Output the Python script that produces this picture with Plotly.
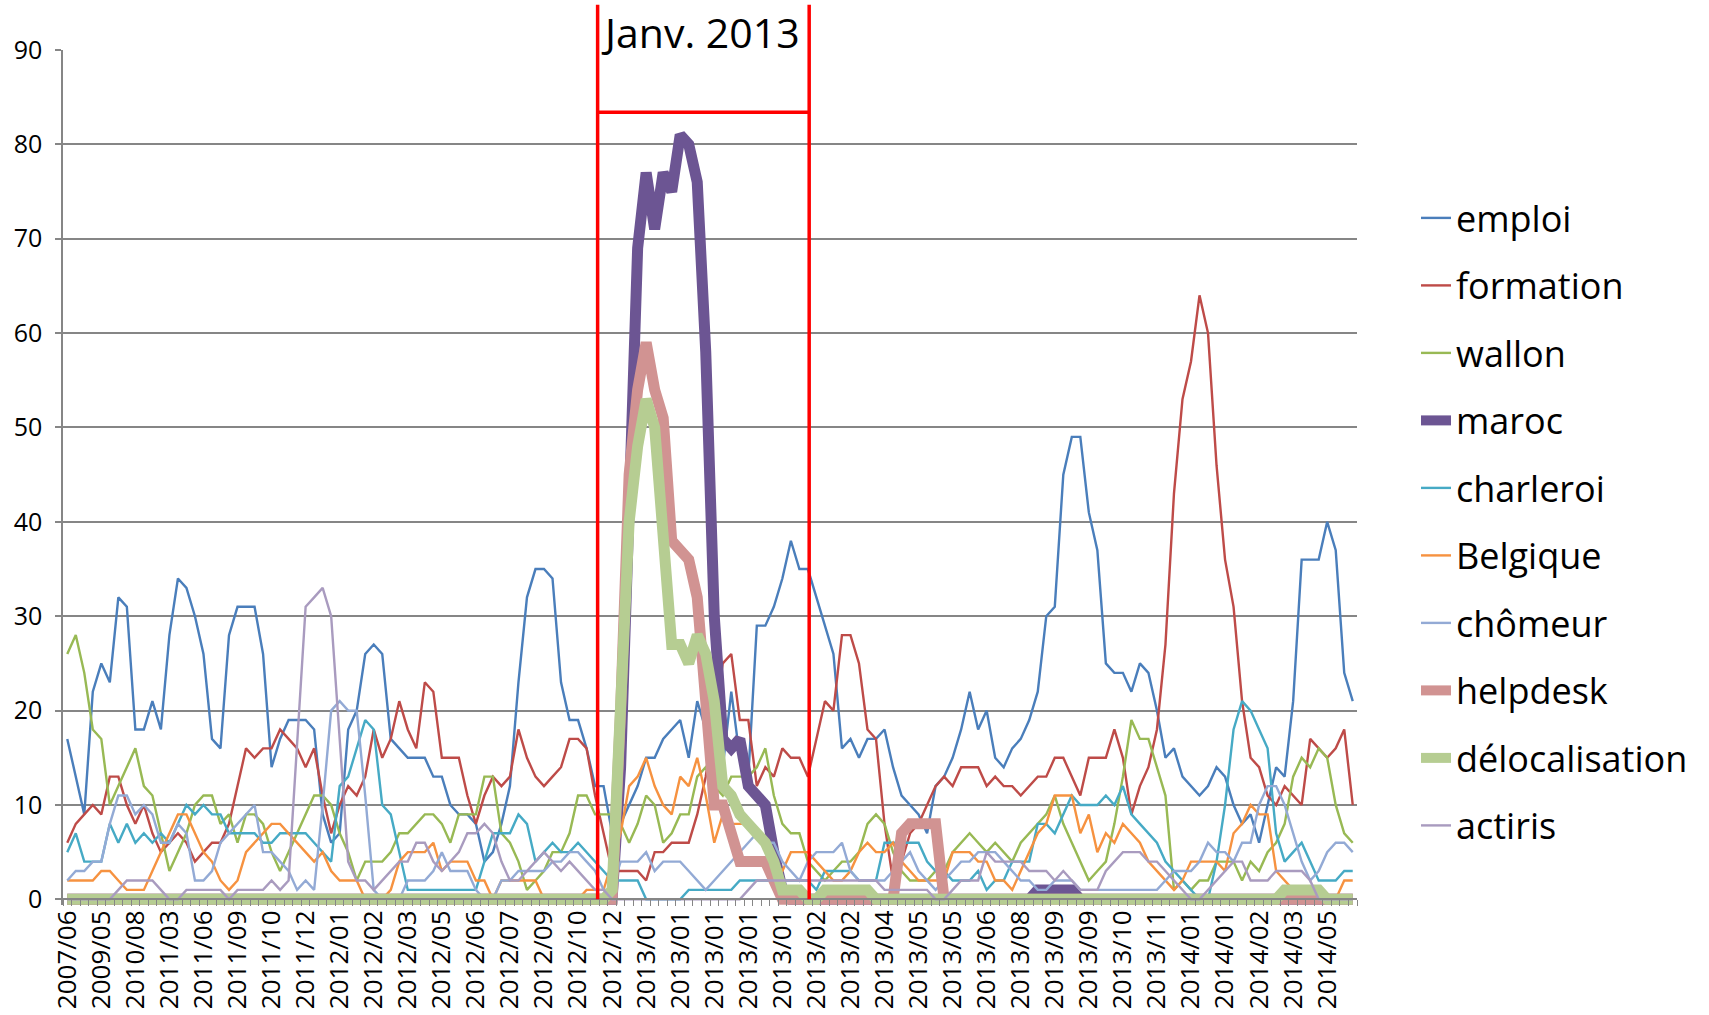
import plotly.graph_objects as go

# ---------------- data ----------------
x_labels = ["2007/06", "2009/05", "2010/08", "2011/03", "2011/06", "2011/09", "2011/10", "2011/12",
            "2012/01", "2012/02", "2012/03", "2012/05", "2012/06", "2012/07", "2012/09", "2012/10",
            "2012/12", "2013/01", "2013/01", "2013/01", "2013/01", "2013/01", "2013/02", "2013/02",
            "2013/04", "2013/05", "2013/05", "2013/06", "2013/08", "2013/09", "2013/09", "2013/10",
            "2013/11", "2014/01", "2014/01", "2014/02", "2014/03", "2014/05"]

emploi = [17, 13, 9, 22, 25, 23, 32, 31, 18, 18,
          21, 18, 28, 34, 33, 30, 26, 17, 16, 28,
          31, 31, 31, 26, 14, 17, 19, 19, 19, 18,
          9, 6, 7, 18, 20, 26, 27, 26, 17, 16,
          15, 15, 15, 13, 13, 10, 9, 9, 8, 4,
          5, 8, 12, 23, 32, 35, 35, 34, 23, 19,
          19, 16, 12, 12, 7, 8, 10, 12, 15, 15,
          17, 18, 19, 15, 21, 18, 15, 14, 22, 15,
          13, 29, 29, 31, 34, 38, 35, 35, 32, 29,
          26, 16, 17, 15, 17, 17, 18, 14, 11, 10,
          9, 7, 12, 13, 15, 18, 22, 18, 20, 15,
          14, 16, 17, 19, 22, 30, 31, 45, 49, 49,
          41, 37, 25, 24, 24, 22, 25, 24, 20, 15,
          16, 13, 12, 11, 12, 14, 13, 10, 8, 9,
          6, 10, 14, 13, 21, 36, 36, 36, 40, 37,
          24, 21]

formation = [6, 8, 9, 10, 9, 13, 13, 10, 8, 10,
             7, 5, 6, 7, 6, 4, 5, 6, 6, 8,
             12, 16, 15, 16, 16, 18, 17, 16, 14, 16,
             11, 7, 10, 12, 11, 13, 18, 15, 17, 21,
             18, 16, 23, 22, 15, 15, 15, 11, 8, 11,
             13, 12, 13, 18, 15, 13, 12, 13, 14, 17,
             17, 16, 11, 7, 3, 3, 3, 3, 2, 5,
             5, 6, 6, 6, 9, 13, 19, 25, 26, 19,
             19, 12, 14, 13, 16, 15, 15, 13, 17, 21,
             20, 28, 28, 25, 18, 17, 8, 2, 4, 7,
             8, 10, 12, 13, 12, 14, 14, 14, 12, 13,
             12, 12, 11, 12, 13, 13, 15, 15, 13, 11,
             15, 15, 15, 18, 15, 9, 12, 14, 18, 27,
             43, 53, 57, 64, 60, 46, 36, 31, 21, 15,
             14, 11, 10, 12, 11, 10, 17, 16, 15, 16,
             18, 10]

wallon = [26, 28, 24, 18, 17, 10, 12, 14, 16, 12,
          11, 7, 3, 5, 7, 10, 11, 11, 8, 9,
          6, 9, 9, 8, 5, 3, 5, 7, 9, 11,
          11, 10, 7, 5, 2, 4, 4, 4, 5, 7,
          7, 8, 9, 9, 8, 6, 9, 9, 9, 13,
          13, 7, 6, 4, 1, 2, 3, 5, 5, 7,
          11, 11, 9, 9, 9, 8, 6, 8, 11, 10,
          6, 7, 9, 9, 13, 14, 12, 11, 13, 13,
          13, 14, 16, 11, 8, 7, 7, 4, 3, 2,
          3, 4, 4, 5, 8, 9, 8, 5, 3, 2,
          2, 2, 3, 3, 5, 6, 7, 6, 5, 6,
          5, 4, 6, 7, 8, 9, 11, 8, 6, 4,
          2, 3, 4, 8, 13, 19, 17, 17, 14, 11,
          1, 2, 1, 2, 2, 4, 4, 4, 2, 4,
          3, 5, 6, 8, 13, 15, 14, 16, 15, 10,
          7, 6]

maroc = [0, 0, 0, 0, 0, 0, 0, 0, 0, 0,
         0, 0, 0, 0, 0, 0, 0, 0, 0, 0,
         0, 0, 0, 0, 0, 0, 0, 0, 0, 0,
         0, 0, 0, 0, 0, 0, 0, 0, 0, 0,
         0, 0, 0, 0, 0, 0, 0, 0, 0, 0,
         0, 0, 0, 0, 0, 0, 0, 0, 0, 0,
         0, 0, 0, 0, 0, 14, 41, 69, 77, 71,
         77, 75, 81, 80, 76, 58, 30, 17, 16, 17,
         12, 11, 10, 5, 1, 0, 0, 0, 0, 0,
         0, 0, 0, 0, 0, 0, 0, 0, 0, 0,
         0, 0, 0, 0, 0, 0, 0, 0, 0, 0,
         0, 0, 0, 0, 1, 1, 1, 1, 1, 0,
         0, 0, 0, 0, 0, 0, 0, 0, 0, 0,
         0, 0, 0, 0, 0, 0, 0, 0, 0, 0,
         0, 0, 0, 0, 0, 0, 0, 0, 0, 0,
         0, 0]

charleroi = [5, 7, 4, 4, 4, 8, 6, 8, 6, 7,
             6, 7, 6, 8, 10, 9, 10, 9, 9, 7,
             7, 7, 7, 6, 6, 7, 7, 7, 7, 6,
             5, 4, 12, 13, 16, 19, 18, 10, 9, 5,
             1, 1, 1, 1, 1, 1, 1, 1, 1, 4,
             7, 7, 7, 9, 8, 4, 5, 6, 5, 5,
             6, 5, 4, 3, 2, 2, 2, 2, 0, 0,
             0, 0, 0, 1, 1, 1, 1, 1, 1, 2,
             2, 2, 2, 2, 2, 2, 2, 2, 1, 3,
             3, 3, 3, 2, 2, 2, 6, 6, 6, 6,
             6, 4, 3, 3, 2, 2, 2, 3, 1, 2,
             2, 4, 4, 4, 8, 8, 7, 9, 11, 10,
             10, 10, 11, 10, 12, 9, 8, 7, 6, 4,
             3, 2, 1, 0, 0, 4, 10, 18, 21, 20,
             18, 16, 7, 4, 5, 6, 4, 2, 2, 2,
             3, 3]

belgique = [2, 2, 2, 2, 3, 3, 2, 1, 1, 1,
            3, 5, 7, 9, 9, 7, 5, 4, 2, 1,
            2, 5, 6, 7, 8, 8, 7, 6, 5, 4,
            5, 3, 2, 2, 2, 0, 0, 0, 1, 4,
            5, 5, 5, 6, 3, 4, 4, 4, 2, 2,
            0, 2, 2, 2, 2, 2, 0, 0, 0, 0,
            0, 1, 1, 1, 4, 7, 12, 13, 15, 12,
            10, 9, 13, 12, 15, 11, 6, 9, 8, 8,
            8, 7, 6, 4, 3, 5, 5, 5, 4, 3,
            2, 2, 3, 5, 6, 5, 5, 6, 4, 3,
            2, 2, 2, 2, 5, 5, 5, 4, 4, 2,
            2, 1, 3, 5, 7, 8, 11, 11, 11, 7,
            9, 5, 7, 6, 8, 7, 6, 4, 3, 2,
            1, 2, 4, 4, 4, 4, 3, 7, 8, 10,
            9, 9, 3, 2, 1, 0, 1, 0, 0, 0,
            2, 2]

chomeur = [2, 3, 3, 4, 4, 8, 11, 11, 9, 10,
           9, 6, 6, 8, 7, 2, 2, 3, 6, 7,
           8, 9, 10, 5, 5, 4, 3, 1, 2, 1,
           10, 20, 21, 20, 20, 11, 1, 0, 0, 0,
           2, 2, 2, 3, 5, 3, 3, 3, 1, 0,
           0, 2, 2, 3, 3, 3, 3, 4, 4, 5,
           5, 4, 3, 1, 1, 4, 4, 4, 5, 3,
           4, 4, 4, 3, 2, 1, 2, 3, 4, 5,
           6, 7, 6, 6, 4, 3, 2, 4, 5, 5,
           5, 6, 3, 2, 2, 2, 2, 3, 4, 5,
           3, 2, 1, 2, 3, 4, 4, 5, 5, 5,
           4, 3, 2, 2, 1, 1, 2, 2, 2, 1,
           1, 1, 1, 1, 1, 1, 1, 1, 1, 2,
           3, 3, 3, 4, 6, 5, 5, 4, 6, 6,
           10, 12, 12, 10, 7, 4, 2, 3, 5, 6,
           6, 5]

helpdesk = [0, 0, 0, 0, 0, 0, 0, 0, 0, 0,
            0, 0, 0, 0, 0, 0, 0, 0, 0, 0,
            0, 0, 0, 0, 0, 0, 0, 0, 0, 0,
            0, 0, 0, 0, 0, 0, 0, 0, 0, 0,
            0, 0, 0, 0, 0, 0, 0, 0, 0, 0,
            0, 0, 0, 0, 0, 0, 0, 0, 0, 0,
            0, 0, 0, 0, 0, 20, 45, 54, 59, 54,
            51, 38, 37, 36, 32, 22, 10, 10, 7, 4,
            4, 4, 4, 2, 0, 0, 0, 0, 0, 0,
            0, 0, 0, 0, 0, 0, 0, 0, 7, 8,
            8, 8, 8, 0, 0, 0, 0, 0, 0, 0,
            0, 0, 0, 0, 0, 0, 0, 0, 0, 0,
            0, 0, 0, 0, 0, 0, 0, 0, 0, 0,
            0, 0, 0, 0, 0, 0, 0, 0, 0, 0,
            0, 0, 0, 0, 0, 0, 0, 0, 0, 0,
            0, 0]

delocalisation = [0, 0, 0, 0, 0, 0, 0, 0, 0, 0,
                  0, 0, 0, 0, 0, 0, 0, 0, 0, 0,
                  0, 0, 0, 0, 0, 0, 0, 0, 0, 0,
                  0, 0, 0, 0, 0, 0, 0, 0, 0, 0,
                  0, 0, 0, 0, 0, 0, 0, 0, 0, 0,
                  0, 0, 0, 0, 0, 0, 0, 0, 0, 0,
                  0, 0, 0, 0, 1, 20, 40, 48, 53, 50,
                  40, 27, 27, 25, 28, 26, 21, 12, 11, 9,
                  8, 7, 6, 4, 1, 1, 1, 0, 0, 1,
                  1, 1, 1, 1, 1, 0, 0, 0, 0, 0,
                  0, 0, 0, 0, 0, 0, 0, 0, 0, 0,
                  0, 0, 0, 0, 0, 0, 0, 0, 0, 0,
                  0, 0, 0, 0, 0, 0, 0, 0, 0, 0,
                  0, 0, 0, 0, 0, 0, 0, 0, 0, 0,
                  0, 0, 0, 1, 1, 1, 1, 1, 0, 0,
                  0, 0]

actiris = [0, 0, 0, 0, 0, 0, 1, 2, 2, 2,
           2, 1, 0, 0, 1, 1, 1, 1, 1, 0,
           1, 1, 1, 1, 2, 1, 2, 16, 31, 32,
           33, 30, 17, 4, 2, 2, 1, 2, 3, 4,
           4, 6, 6, 4, 3, 4, 5, 7, 7, 8,
           7, 4, 2, 2, 3, 4, 5, 4, 3, 4,
           3, 2, 1, 1, 0, 0, 0, 0, 0, 0,
           0, 0, 0, 0, 0, 0, 0, 0, 0, 0,
           1, 2, 2, 2, 2, 2, 2, 2, 2, 2,
           2, 2, 2, 2, 2, 2, 1, 1, 1, 1,
           1, 1, 0, 0, 1, 2, 2, 2, 5, 4,
           4, 4, 4, 3, 3, 3, 2, 3, 2, 1,
           1, 1, 3, 4, 5, 5, 5, 4, 4, 3,
           2, 1, 0, 0, 1, 2, 3, 4, 4, 2,
           2, 2, 3, 3, 3, 3, 2, 0, 0, 0,
           0, 0]

series_names = ["emploi", "formation", "wallon", "maroc", "charleroi",
                "Belgique", "chômeur", "helpdesk", "délocalisation", "actiris"]
series_values = [emploi, formation, wallon, maroc, charleroi,
                 belgique, chomeur, helpdesk, delocalisation, actiris]

# ---------------- style ----------------
colors = ["#4A7EBB", "#BE4B48", "#98B954", "#6C5593", "#46AAC5",
          "#F69240", "#93AAD5", "#D19392", "#B6CD92", "#A99BBF"]
widths = [2.4, 2.4, 2.4, 11, 2.4, 2.4, 2.4, 11, 11, 2.4]
FONT = "Open Sans"
GRID = "#868686"

n = len(emploi)
xs = list(range(n))
XR = [-0.5, n - 0.5]
YR = [-0.6, 90]


def xp(v):
    return (v - XR[0]) / (XR[1] - XR[0])


def yp(v):
    return (v - YR[0]) / (YR[1] - YR[0])


fig = go.Figure()
for name, vals, col, w in zip(series_names, series_values, colors, widths):
    fig.add_trace(go.Scatter(
        x=xs, y=vals, mode="lines", name=name, legendgroup=name,
        line=dict(color=col, width=w),
    ))

# "Janv. 2013" bracket (red)
jan_left, jan_right = 62.3, 87.15
bar_level, top_level = 83.4, 94.8
red = "#FF0000"
shapes = [
    dict(type="line", xref="paper", yref="paper", x0=xp(jan_left), x1=xp(jan_left),
         y0=yp(0), y1=yp(top_level), line=dict(color=red, width=3.5)),
    dict(type="line", xref="paper", yref="paper", x0=xp(jan_right), x1=xp(jan_right),
         y0=yp(0), y1=yp(top_level), line=dict(color=red, width=3.5)),
    dict(type="line", xref="paper", yref="paper", x0=xp(jan_left), x1=xp(jan_right),
         y0=yp(bar_level), y1=yp(bar_level), line=dict(color=red, width=3.5)),
]

annotations = [
    dict(text="Janv. 2013", xref="paper", yref="paper",
         x=xp((jan_left + jan_right) / 2) - 0.002, y=yp(91.95),
         xanchor="center", yanchor="middle", showarrow=False,
         font=dict(family=FONT, size=41, color="black")),
]

fig.update_layout(
    width=1709, height=1015,
    margin=dict(l=63, r=352, t=50, b=110, autoexpand=False),
    paper_bgcolor="white", plot_bgcolor="white",
    font=dict(family=FONT, color="black"),
    showlegend=True,
    legend=dict(
        x=1.0456, y=1 - (188 - 50) / 855, xanchor="left", yanchor="top",
        font=dict(family=FONT, size=36, color="black"),
        tracegroupgap=17.7, bgcolor="rgba(0,0,0,0)", borderwidth=0,
        itemclick=False, itemdoubleclick=False,
    ),
    shapes=shapes,
    annotations=annotations,
    xaxis=dict(
        range=XR, anchor="free", position=yp(0),
        tickmode="array", tickvals=list(range(0, n, 4)), ticktext=x_labels,
        tickangle=-90, ticks="", showgrid=False, zeroline=False,
        showline=True, linecolor=GRID, linewidth=1.5,
        tickfont=dict(family=FONT, size=26, color="black"),
        minor=dict(ticks="outside", tickmode="linear", tick0=-0.5, dtick=1,
                   ticklen=6, tickcolor=GRID, tickwidth=1, showgrid=False),
    ),
    yaxis=dict(
        range=YR, tickmode="linear", tick0=0, dtick=10,
        showgrid=True, gridcolor=GRID, gridwidth=1.5, zeroline=False,
        showline=True, linecolor=GRID, linewidth=1.5,
        ticks="outside", ticklen=6, tickcolor=GRID, tickwidth=1.5,
        ticklabelstandoff=8,
        tickfont=dict(family=FONT, size=25, color="black"),
    ),
)

fig.write_html("out.html",
               config={"displayModeBar": False},
               post_script="document.body.style.margin='0';document.body.style.overflow='hidden';")
